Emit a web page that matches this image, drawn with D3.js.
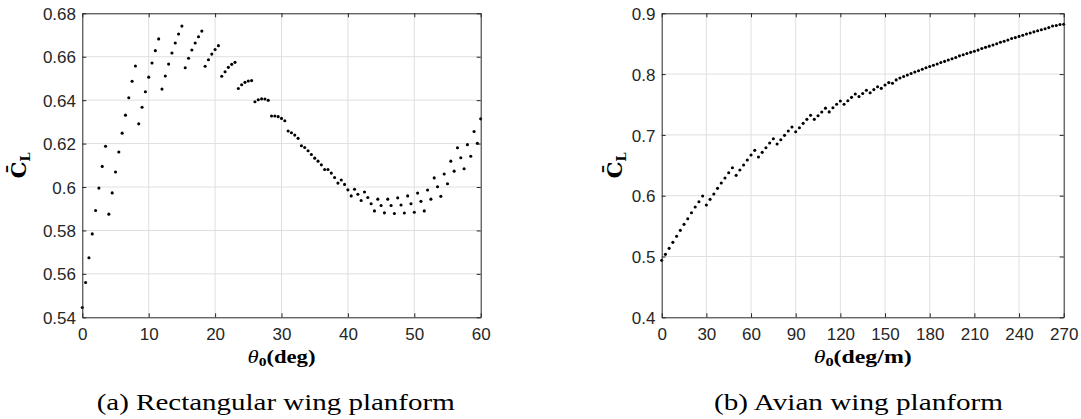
<!DOCTYPE html>
<html><head><meta charset="utf-8">
<script src="https://cdn.jsdelivr.net/npm/d3@7"></script>
<style>body{margin:0;background:#fff}</style>
</head><body><svg id="c" width="1081" height="419"></svg>
<script>
// ---------- DATA ----------
// (a) Rectangular wing planform: theta0 from 0 to 60 deg in steps of 0.5
const rectStep = 0.5;
const rectCL = [
  0.5445,0.556,0.5674,0.5784,0.5892,0.5995,0.6095,0.6188,0.5875,0.5973,
  0.6069,0.6161,0.6248,0.6331,0.6411,0.6487,0.6557,0.6291,0.6367,0.6439,
  0.6506,0.6571,0.6628,0.6682,0.6451,0.6511,0.6566,0.6617,0.6663,0.6705,
  0.6741,0.6549,0.6593,0.6631,0.6663,0.6692,0.6718,0.6556,0.6586,0.6612,
  0.6633,0.6651,0.651,0.6531,0.6551,0.6565,0.6574,0.6454,0.6471,0.6482,
  0.6488,0.649,0.6393,0.6402,0.6406,0.6405,0.6399,0.6327,0.6327,0.6324,
  0.6316,0.6305,0.6258,0.625,0.6239,0.6224,0.619,0.6182,0.6167,0.615,
  0.6133,0.6119,0.6102,0.6081,0.6081,0.6064,0.6044,0.6018,0.6032,0.6012,
  0.5987,0.5959,0.599,0.5967,0.5938,0.5977,0.5952,0.5923,0.589,0.5944,
  0.5915,0.5881,0.5944,0.5915,0.5878,0.595,0.5917,0.588,0.5959,0.5923,
  0.5884,0.5972,0.5934,0.589,0.5986,0.5944,0.6042,0.6001,0.5957,0.606,
  0.6015,0.6119,0.6073,0.6181,0.6135,0.6084,0.6195,0.6142,0.6256,0.6201,
  0.6314
];
const rectXTicks = [0, 10, 20, 30, 40, 50, 60];
const rectYTicks = [0.54, 0.56, 0.58, 0.6, 0.62, 0.64, 0.66, 0.68];

// (b) Avian wing planform: theta0 from 0 to 270 deg/m in steps of 2.5
const avianStep = 2.5;
const avianCL = [
  0.4937,0.5035,0.5134,0.5233,0.5332,0.543,0.5529,0.5621,0.572,0.5814,
  0.5901,0.5995,0.5847,0.594,0.6028,0.6121,0.6208,0.6291,0.6378,0.646,
  0.6335,0.6422,0.6505,0.6587,0.6669,0.6746,0.6636,0.6713,0.6789,0.6866,
  0.6937,0.685,0.6921,0.6993,0.7064,0.713,0.7052,0.7118,0.719,0.7256,
  0.7322,0.7256,0.7316,0.7376,0.744,0.7378,0.7447,0.7503,0.7557,0.7503,
  0.7562,0.7618,0.7672,0.763,0.768,0.7735,0.7694,0.7745,0.7793,0.7766,
  0.7821,0.786,0.785,0.7905,0.7935,0.796,0.7985,0.801,0.8035,0.8055,
  0.808,0.8105,0.8125,0.8145,0.8165,0.819,0.821,0.8232,0.8253,0.8273,
  0.83,0.8318,0.8338,0.8358,0.8375,0.8395,0.842,0.844,0.846,0.8478,
  0.85,0.8523,0.854,0.856,0.8585,0.86,0.862,0.864,0.866,0.8675,
  0.8695,0.8712,0.873,0.8745,0.8765,0.879,0.88,0.8815,0.882
];
const avianXTicks = [0, 30, 60, 90, 120, 150, 180, 210, 240, 270];
const avianYTicks = [0.4, 0.5, 0.6, 0.7, 0.8, 0.9];

const captions = ["(a) Rectangular wing planform", "(b) Avian wing planform"];
const xUnits = ["(deg)", "(deg/m)"];

// ---------- LAYOUT ----------
const svg = d3.select("#c");
svg.append("rect").attr("width",1081).attr("height",419).attr("fill","#fff");
const yTop = 13.3, yBot = 317.3;
const AX = "#262626", GRID = "#dfdfdf";
const tickFont = "'Liberation Sans', Arial, Helvetica, sans-serif";
const serif = "'Liberation Serif', 'DejaVu Serif', serif";

const panels = [
  {x0:82.3, x1:480.7, xd:[0,60], yd:[0.54,0.68], xt:rectXTicks, yt:rectYTicks,
   vals:rectCL, step:rectStep, unit:xUnits[0], cap:captions[0], capX:96.7, capW:358, ylabX:26, xlW:68},
  {x0:661.7, x1:1063.7, xd:[0,270], yd:[0.4,0.9], xt:avianXTicks, yt:avianYTicks,
   vals:avianCL, step:avianStep, unit:xUnits[1], cap:captions[1], capX:714, capW:289, ylabX:622, xlW:98}
];

const fmtY = d => String(+d.toFixed(2));

panels.forEach(p => {
  const x = d3.scaleLinear().domain(p.xd).range([p.x0, p.x1]);
  const y = d3.scaleLinear().domain(p.yd).range([yBot, yTop]);
  const g = svg.append("g");

  // grid
  g.append("g").selectAll("line").data(p.xt.slice(1, -1)).join("line")
    .attr("x1", d => x(d)).attr("x2", d => x(d)).attr("y1", yTop).attr("y2", yBot)
    .attr("stroke", GRID).attr("stroke-width", 1);
  g.append("g").selectAll("line").data(p.yt.slice(1, -1)).join("line")
    .attr("y1", d => y(d)).attr("y2", d => y(d)).attr("x1", p.x0).attr("x2", p.x1)
    .attr("stroke", GRID).attr("stroke-width", 1);

  // data points
  g.append("g").selectAll("circle").data(p.vals).join("circle")
    .attr("cx", (d, i) => x(i * p.step)).attr("cy", d => y(d))
    .attr("r", 1.55).attr("fill", "#000");

  // axes (inward ticks)
  const ax = g.append("g").attr("transform", `translate(0,${yBot})`)
    .call(d3.axisBottom(x).tickValues(p.xt).tickSizeInner(-4).tickSizeOuter(0).tickPadding(11).tickFormat(d3.format("d")));
  const axT = g.append("g").attr("transform", `translate(0,${yTop})`)
    .call(d3.axisTop(x).tickValues(p.xt).tickSizeInner(-4).tickSizeOuter(0).tickFormat(""));
  const ay = g.append("g").attr("transform", `translate(${p.x0},0)`)
    .call(d3.axisLeft(y).tickValues(p.yt).tickSizeInner(-4).tickSizeOuter(0).tickPadding(6.3).tickFormat(fmtY));
  const ayR = g.append("g").attr("transform", `translate(${p.x1},0)`)
    .call(d3.axisRight(y).tickValues(p.yt).tickSizeInner(-4).tickSizeOuter(0).tickFormat(""));
  [ax, axT, ay, ayR].forEach(a => {
    a.select(".domain").attr("stroke", AX).attr("stroke-width", 1);
    a.selectAll(".tick line").attr("stroke", AX).attr("stroke-width", 1);
    a.selectAll("text").attr("fill", AX).attr("font-family", tickFont).attr("font-size", 17);
  });
  ay.selectAll("text").attr("dy", "0.36em");

  // x label
  const cx = (p.x0 + p.x1) / 2;
  const xl = g.append("text").attr("x", cx - p.xlW / 2).attr("y", 363)
    .attr("font-family", serif).attr("font-size", 19).attr("fill", "#000")
    .attr("textLength", p.xlW).attr("lengthAdjust", "spacingAndGlyphs");
  xl.append("tspan").attr("font-style", "italic").text("θ");
  xl.append("tspan").attr("font-size", 13).attr("font-weight", "bold").attr("dy", 3).text("0");
  xl.append("tspan").attr("font-weight", "bold").attr("dy", -3).text(p.unit);

  // y label
  const yl = g.append("text").attr("transform", `translate(${p.ylabX},${(yTop+yBot)/2}) rotate(-90)`)
    .attr("text-anchor", "middle").attr("font-family", "'DejaVu Serif', serif")
    .attr("font-weight", "bold").attr("font-size", 21).attr("fill", "#000");
  yl.append("tspan").text("C\u0304");
  yl.append("tspan").attr("font-size", 13).attr("dy", 4).text("L");

  // caption
  g.append("text").attr("x", p.capX).attr("y", 410).attr("font-family", serif)
    .attr("font-size", 23).attr("fill", "#000")
    .attr("textLength", p.capW).attr("lengthAdjust", "spacingAndGlyphs").text(p.cap);
});
</script></body></html>
